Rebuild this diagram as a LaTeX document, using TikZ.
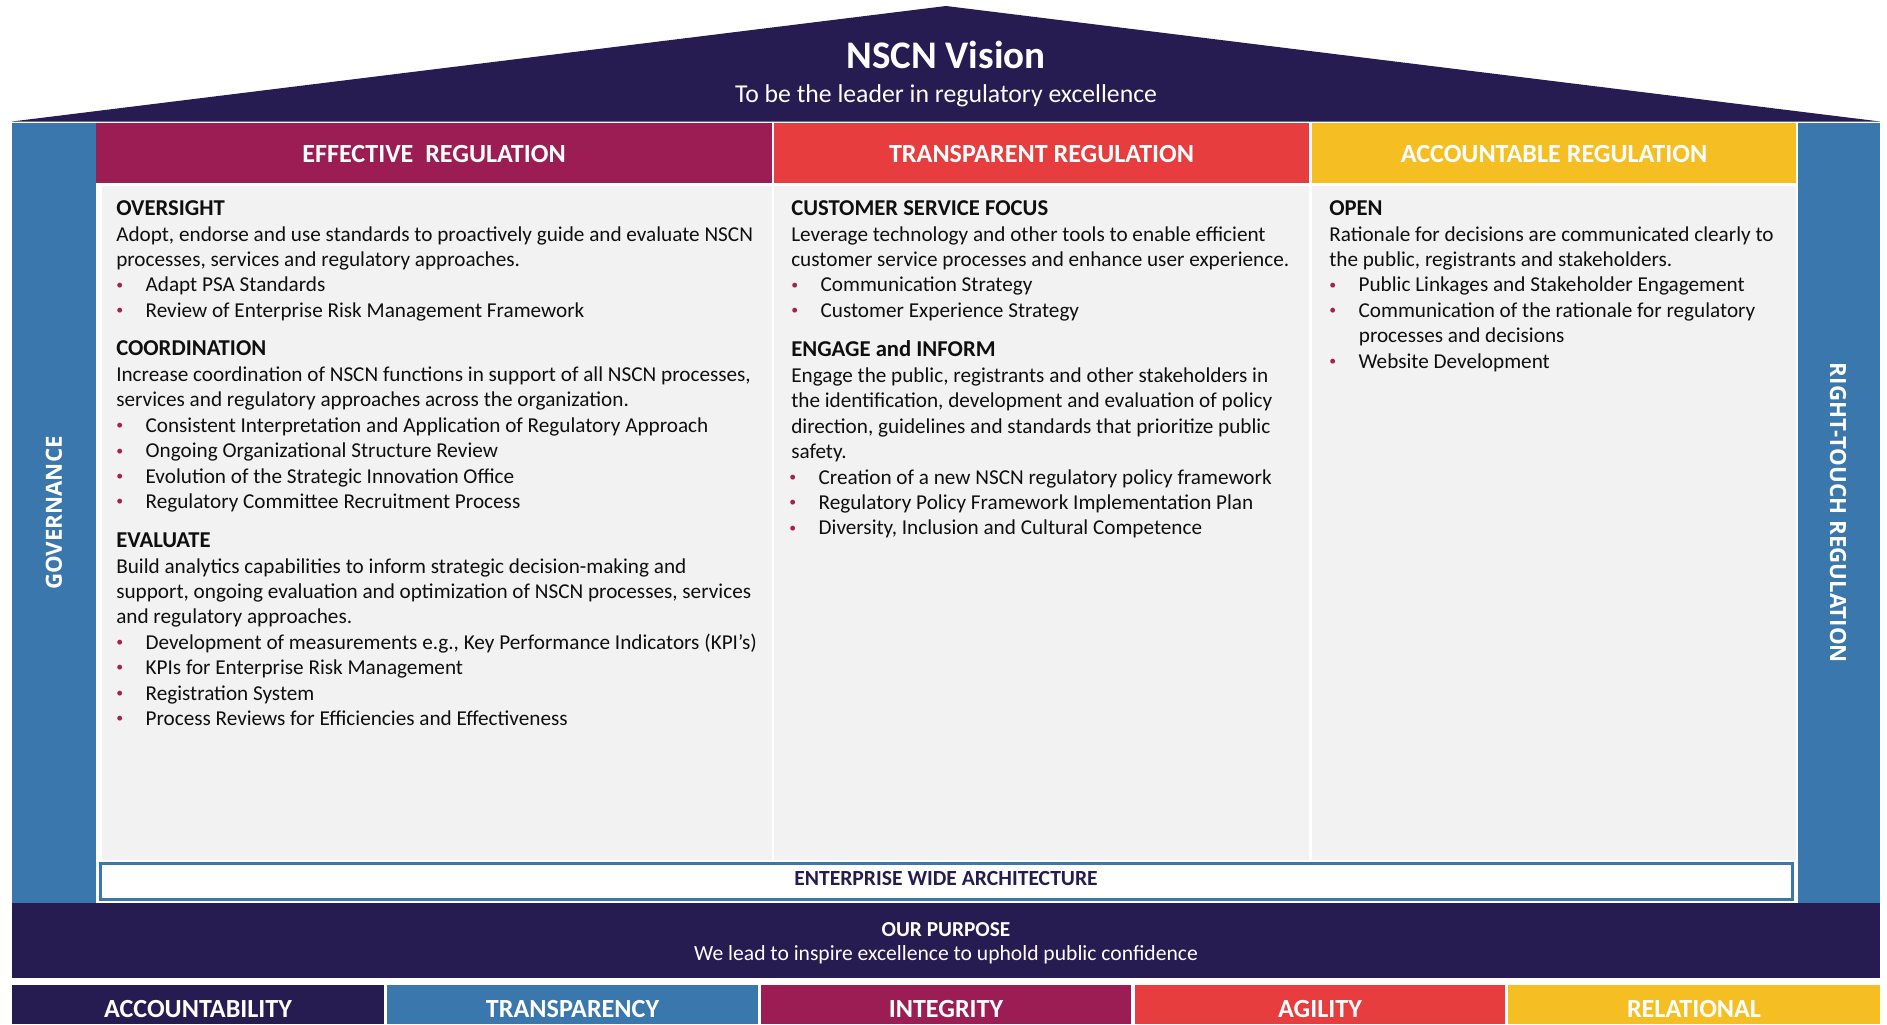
\documentclass[tikz,border=0pt]{standalone}
\usepackage{fontspec}
\setmainfont{Carlito}
\newfontfamily\sidefont{Open Sans}

\definecolor{navy}{RGB}{38,28,82}
\definecolor{pillar}{RGB}{58,119,172}
\definecolor{plum}{RGB}{155,29,83}
\definecolor{coral}{RGB}{232,61,63}
\definecolor{gold}{RGB}{245,191,36}
\definecolor{panel}{RGB}{242,242,242}
\definecolor{ink}{RGB}{15,15,15}
\definecolor{bulcol}{RGB}{170,30,80}

\newcommand{\bodyfont}{\fontsize{15.9}{19}\selectfont}
\newcommand{\bitem}[1]{\makebox[22pt][l]{\textcolor{bulcol}{\raisebox{2pt}{\scalebox{0.65}{•}}}}#1}

\tikzset{
  body/.style={anchor=base west, inner sep=0pt, font=\bodyfont, text=ink},
  head/.style={anchor=base west, inner sep=0pt, text=ink, font=\fontsize{17}{20}\selectfont\bfseries},
  barlabel/.style={anchor=base, inner sep=0pt, text=white, font=\fontsize{19.6}{23}\selectfont\bfseries},
  sidelabel/.style={inner sep=0pt, text=white, font=\sidefont\fontsize{16.7}{20}\selectfont\bfseries},
}

\begin{document}
\begin{tikzpicture}[x=0.75pt,y=-0.75pt]
\useasboundingbox (0,0) rectangle (1887,1024);
\fill[white] (0,0) rectangle (1887,1024);

% roof
\fill[navy] (12,121.5) -- (946,6) -- (1880,121.5) -- cycle;
\node[anchor=base, inner sep=0pt, text=white, font=\fontsize{29.3}{34}\selectfont\bfseries] (vision) at (946,69) {NSCN Vision};
\node[anchor=base, inner sep=0pt, text=white, font=\fontsize{19.3}{23}\selectfont] (visiontxt) at (946,103) {To be the leader in regulatory excellence};

% side pillars
\fill[pillar] (12,123) rectangle (96,903);
\fill[pillar] (1798,123) rectangle (1880,903);
\node[sidelabel, rotate=90] (gov) at (54,513) {GOVERNANCE};
\node[sidelabel, rotate=-90] (rtr) at (1838,513) {RIGHT-TOUCH REGULATION};

% column headers
\fill[plum] (96,123) rectangle (771.5,183);
\fill[coral] (773.8,123) rectangle (1309.4,183);
\fill[gold] (1311.8,123) rectangle (1795.6,183);
\node[barlabel] (effreg) at (434,162.3) {EFFECTIVE\ \ REGULATION};
\node[barlabel] (trareg) at (1041.5,162.3) {TRANSPARENT REGULATION};
\node[barlabel] (accreg) at (1554,162.3) {ACCOUNTABLE REGULATION};

% column panels
\fill[panel] (101.5,186) rectangle (771.5,860);
\fill[panel] (773.8,186) rectangle (1309.4,860);
\fill[panel] (1311.8,186) rectangle (1795.6,860);

% effective regulation
\node[head] (l1) at (116,215) {OVERSIGHT};
\node[body] (l2) at (116,241) {Adopt, endorse and use standards to proactively guide and evaluate NSCN};
\node[body] (l3) at (116,266.4) {processes, services and regulatory approaches.};
\node[body] (l4) at (116,291.8) {\bitem{Adapt PSA Standards}};
\node[body] (l5) at (116,317.2) {\bitem{Review of Enterprise Risk Management Framework}};
\node[head] (l6) at (116,355.5) {COORDINATION};
\node[body] (l7) at (116,381.5) {Increase coordination of NSCN functions in support of all NSCN processes,};
\node[body] (l8) at (116,406.9) {services and regulatory approaches across the organization.};
\node[body] (l9) at (116,432.3) {\bitem{Consistent Interpretation and Application of Regulatory Approach}};
\node[body] (l10) at (116,457.7) {\bitem{Ongoing Organizational Structure Review}};
\node[body] (l11) at (116,483.1) {\bitem{Evolution of the Strategic Innovation Office}};
\node[body] (l12) at (116,508.5) {\bitem{Regulatory Committee Recruitment Process}};
\node[head] (l13) at (116,547) {EVALUATE};
\node[body] (l14) at (116,573) {Build analytics capabilities to inform strategic decision-making and};
\node[body] (l15) at (116,598.4) {support, ongoing evaluation and optimization of NSCN processes, services};
\node[body] (l16) at (116,623.8) {and regulatory approaches.};
\node[body] (l17) at (116,649.2) {\bitem{Development of measurements e.g., Key Performance Indicators (KPI’s)}};
\node[body] (l18) at (116,674.6) {\bitem{KPIs for Enterprise Risk Management}};
\node[body] (l19) at (116,700) {\bitem{Registration System}};
\node[body] (l20) at (116,725.4) {\bitem{Process Reviews for Efficiencies and Effectiveness}};

% transparent regulation
\node[head] (m1) at (791,215) {CUSTOMER SERVICE FOCUS};
\node[body] (m2) at (791,241) {Leverage technology and other tools to enable efficient};
\node[body] (m3) at (791,266.4) {customer service processes and enhance user experience.};
\node[body] (m4) at (791,291.8) {\bitem{Communication Strategy}};
\node[body] (m5) at (791,317.2) {\bitem{Customer Experience Strategy}};
\node[head] (m6) at (791,356.5) {ENGAGE and INFORM};
\node[body] (m7) at (791,382.5) {Engage the public, registrants and other stakeholders in};
\node[body] (m8) at (791,407.9) {the identification, development and evaluation of policy};
\node[body] (m9) at (791,433.3) {direction, guidelines and standards that prioritize public};
\node[body] (m10) at (791,458.7) {safety.};
\node[body] (m11) at (789,484.1) {\bitem{Creation of a new NSCN regulatory policy framework}};
\node[body] (m12) at (789,509.5) {\bitem{Regulatory Policy Framework Implementation Plan}};
\node[body] (m13) at (789,534.9) {\bitem{Diversity, Inclusion and Cultural Competence}};

% accountable regulation
\node[head] (r1) at (1329,215) {OPEN};
\node[body] (r2) at (1329,241) {Rationale for decisions are communicated clearly to};
\node[body] (r3) at (1329,266.4) {the public, registrants and stakeholders.};
\node[body] (r4) at (1329,291.8) {\bitem{Public Linkages and Stakeholder Engagement}};
\node[body] (r5) at (1329,317.2) {\bitem{Communication of the rationale for regulatory}};
\node[body] (r6) at (1358.6,342.6) {processes and decisions};
\node[body] (r7) at (1329,368) {\bitem{Website Development}};

% enterprise band
\draw[pillar, line width=2.25pt, fill=white] (100.5,863.5) rectangle (1792,899);
\node[anchor=base, inner sep=0pt, text=navy, font=\fontsize{16.2}{19}\selectfont\bfseries] (ewa) at (946,885) {ENTERPRISE WIDE ARCHITECTURE};

% purpose band
\fill[navy] (12,903) rectangle (1880,978);
\node[anchor=base, inner sep=0pt, text=white, font=\fontsize{16}{19}\selectfont\bfseries] (purpose) at (946,936) {OUR PURPOSE};
\node[anchor=base, inner sep=0pt, text=white, font=\fontsize{16.2}{19}\selectfont] (purposetxt) at (946,960) {We lead to inspire excellence to uphold public confidence};

% values
\fill[navy] (12,985) rectangle (384,1024);
\fill[pillar] (387,985) rectangle (758,1024);
\fill[plum] (761,985) rectangle (1131,1024);
\fill[coral] (1135,985) rectangle (1505,1024);
\fill[gold] (1508,985) rectangle (1880,1024);
\node[barlabel] (v1) at (198,1017) {ACCOUNTABILITY};
\node[barlabel] (v2) at (572.5,1017) {TRANSPARENCY};
\node[barlabel] (v3) at (946,1017) {INTEGRITY};
\node[barlabel] (v4) at (1320,1017) {AGILITY};
\node[barlabel] (v5) at (1694,1017) {RELATIONAL};
\end{tikzpicture}
\end{document}
